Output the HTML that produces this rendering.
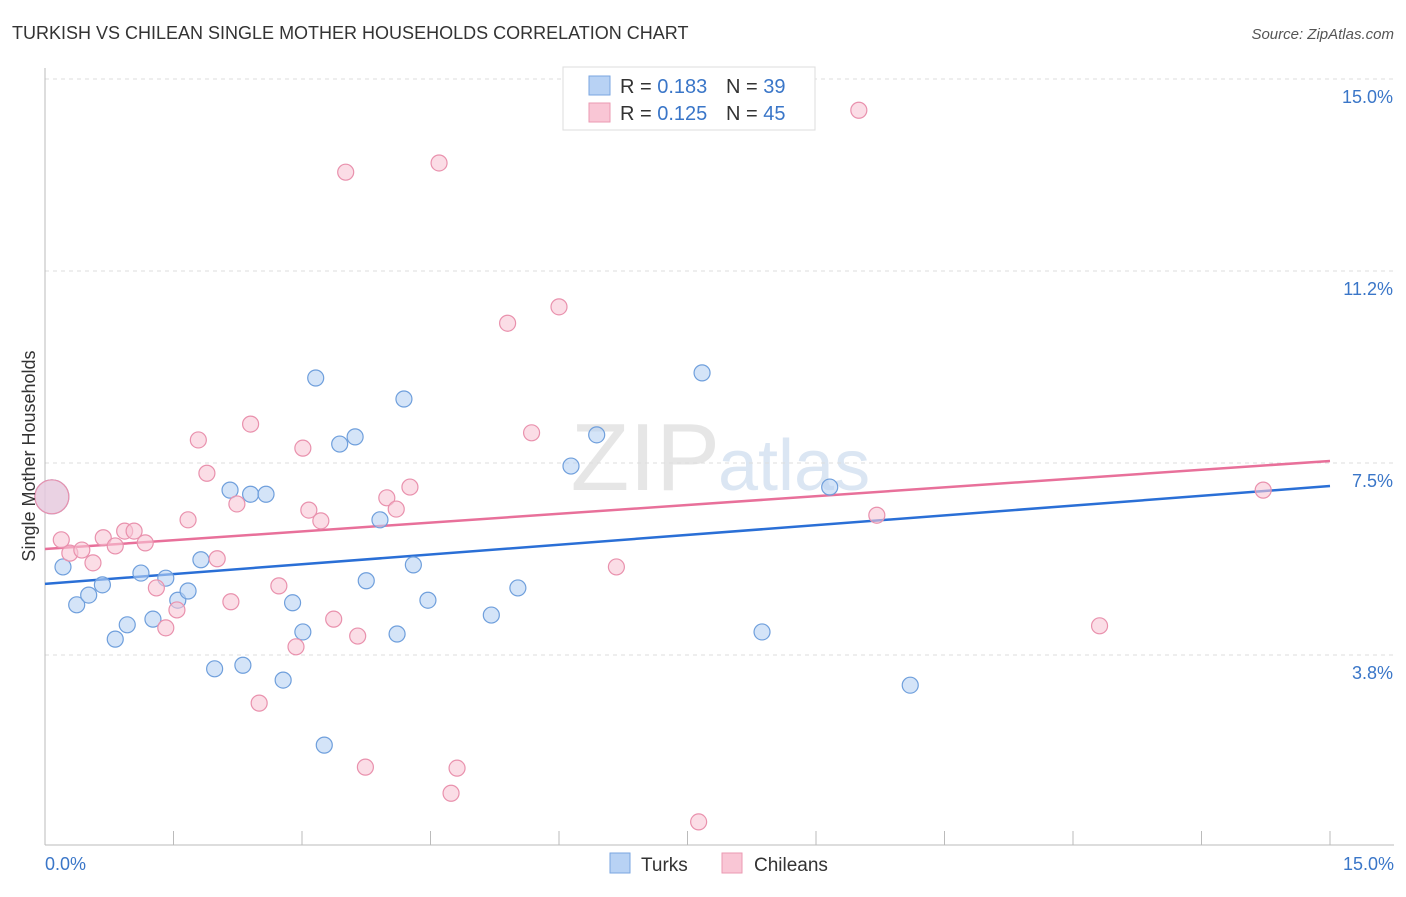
<!DOCTYPE html>
<html><head><meta charset="utf-8"><style>
body{margin:0;background:#fff;font-family:"Liberation Sans",sans-serif;}
svg text{font-family:"Liberation Sans",sans-serif;}
</style></head><body>
<svg id="c" width="1406" height="892" xmlns="http://www.w3.org/2000/svg">
<text x="12" y="39" font-size="18" fill="#333">TURKISH VS CHILEAN SINGLE MOTHER HOUSEHOLDS CORRELATION CHART</text>
<text x="1394" y="39" font-size="15" fill="#555" text-anchor="end" font-style="italic">Source: ZipAtlas.com</text>
<text x="720" y="490" font-size="96" fill="#e6e6e6" text-anchor="end" font-family="Liberation Serif">ZIP</text>
<text x="718" y="490" font-size="72" fill="#dbe6f3">atlas</text>
<g id="grid"></g>
<g id="axes"></g>
<g id="trend"></g>
<g id="pts"></g>
<text x="35" y="456" font-size="18" fill="#333" text-anchor="middle" transform="rotate(-90 35 456)">Single Mother Households</text>
<text x="45" y="870" font-size="18" fill="#3a76c8">0.0%</text>
<text x="1394" y="870" font-size="18" fill="#3a76c8" text-anchor="end">15.0%</text>
<g>
<rect x="563" y="67" width="252" height="63" fill="#fff" stroke="#ddd"/>
<rect x="589" y="76" width="21" height="19" fill="#b8d2f4" stroke="#7aa6e0"/>
<text x="620" y="93" font-size="20" fill="#333">R = <tspan fill="#3a76c8">0.183</tspan></text>
<text x="726" y="93" font-size="20" fill="#333">N = <tspan fill="#3a76c8"> 39</tspan></text>
<rect x="589" y="103" width="21" height="19" fill="#f9c6d5" stroke="#eb9ab2"/>
<text x="620" y="120" font-size="20" fill="#333">R = <tspan fill="#3a76c8">0.125</tspan></text>
<text x="726" y="120" font-size="20" fill="#333">N = <tspan fill="#3a76c8">45</tspan></text>
</g>
<g>
<rect x="610" y="853" width="20" height="20" fill="#b8d2f4" stroke="#7aa6e0"/>
<text x="641" y="871" font-size="19" fill="#333">Turks</text>
<rect x="722" y="853" width="20" height="20" fill="#f9c6d5" stroke="#eb9ab2"/>
<text x="754" y="871" font-size="19" fill="#333">Chileans</text>
</g>
</svg>
<script>
const yTicks=[15,11.25,7.5,3.75];
const yTickLabels=["15.0%","11.2%","7.5%","3.8%"];
const xTicks=[0,1.5,3,4.5,6,7.5,9,10.5,12,13.5,15];
const turksX=[0.08,0.21,0.37,0.51,0.67,0.82,0.96,1.12,1.26,1.41,1.55,1.67,1.82,1.98,2.16,2.31,2.40,2.58,2.78,2.89,3.01,3.16,3.26,3.44,3.62,3.75,3.91,4.11,4.19,4.30,4.47,5.21,5.52,6.14,6.44,7.67,8.37,9.16,10.10];
const turksY=[6.84,5.47,4.73,4.92,5.12,4.06,4.34,5.35,4.45,5.25,4.82,5.00,5.61,3.48,6.97,3.55,6.89,6.89,3.26,4.77,4.20,9.16,1.99,7.87,8.01,5.20,6.39,4.16,8.75,5.51,4.82,4.53,5.06,7.44,8.05,9.26,4.20,7.03,3.16];
const chilX=[0.08,0.19,0.29,0.43,0.56,0.68,0.82,0.93,1.04,1.17,1.30,1.41,1.54,1.67,1.79,1.89,2.01,2.17,2.24,2.40,2.50,2.73,2.93,3.01,3.08,3.22,3.37,3.51,3.65,3.74,3.99,4.10,4.26,4.60,4.74,4.81,5.40,5.68,6.00,6.67,7.63,9.50,9.71,12.31,14.22];
const chilY=[6.84,6.00,5.74,5.80,5.55,6.04,5.88,6.17,6.17,5.94,5.06,4.28,4.63,6.39,7.95,7.30,5.63,4.79,6.70,8.26,2.81,5.10,3.91,7.79,6.58,6.37,4.45,13.18,4.12,1.56,6.82,6.60,7.03,13.36,1.05,1.54,10.23,8.09,10.55,5.47,0.49,14.39,6.48,4.32,6.97];
const turksTrend=[5.14,7.05];
const chilTrend=[5.82,7.54];
const NS="http://www.w3.org/2000/svg";
function sx(v){return 45+v*1285/15;}
function sy(v){return 847-v*768/15;}
function mk(tag,attrs,parent){const e=document.createElementNS(NS,tag);for(const k in attrs)e.setAttribute(k,attrs[k]);document.getElementById(parent).appendChild(e);return e;}
yTicks.forEach((t,i)=>{
 const l=mk('line',{x1:45,x2:1394,y1:sy(t),y2:sy(t),stroke:'#ddd','stroke-dasharray':'4,4'},'grid');
 
 
 const tx=mk('text',{x:1393,y:sy(t)+24,'font-size':18,fill:'#3a76c8','text-anchor':'end'},'grid');
 tx.textContent=yTickLabels[i];
 
 
});
let a=mk('line',{x1:45,x2:45,y1:68,y2:845,stroke:'#bbb'},'axes');


a=mk('line',{x1:45,x2:1394,y1:845,y2:845,stroke:'#bbb'},'axes');


xTicks.forEach(t=>{
 const l=mk('line',{x1:sx(t),x2:sx(t),y1:831,y2:845,stroke:'#bbb'},'axes');
 
 
});
let tl=mk('line',{x1:sx(0),x2:sx(15),y1:sy(turksTrend[0]),y2:sy(turksTrend[1]),stroke:'#2a6fd6','stroke-width':2.5},'trend');


tl=mk('line',{x1:sx(0),x2:sx(15),y1:sy(chilTrend[0]),y2:sy(chilTrend[1]),stroke:'#e8709a','stroke-width':2.5},'trend');


function pts(xs,ys,fill,stroke,name){
 xs.forEach((x,i)=>{
  const c=mk('circle',{cx:sx(x),cy:sy(ys[i]),r:i===0?17:8,fill:fill,'fill-opacity':0.6,stroke:stroke,'stroke-width':1.2},'pts');
  
  
 });
}
pts(turksX,turksY,'#b8d2f4','#6f9fdc','turks-point');
pts(chilX,chilY,'#f9c6d5','#e991ad','chileans-point');
</script>
</body></html>
